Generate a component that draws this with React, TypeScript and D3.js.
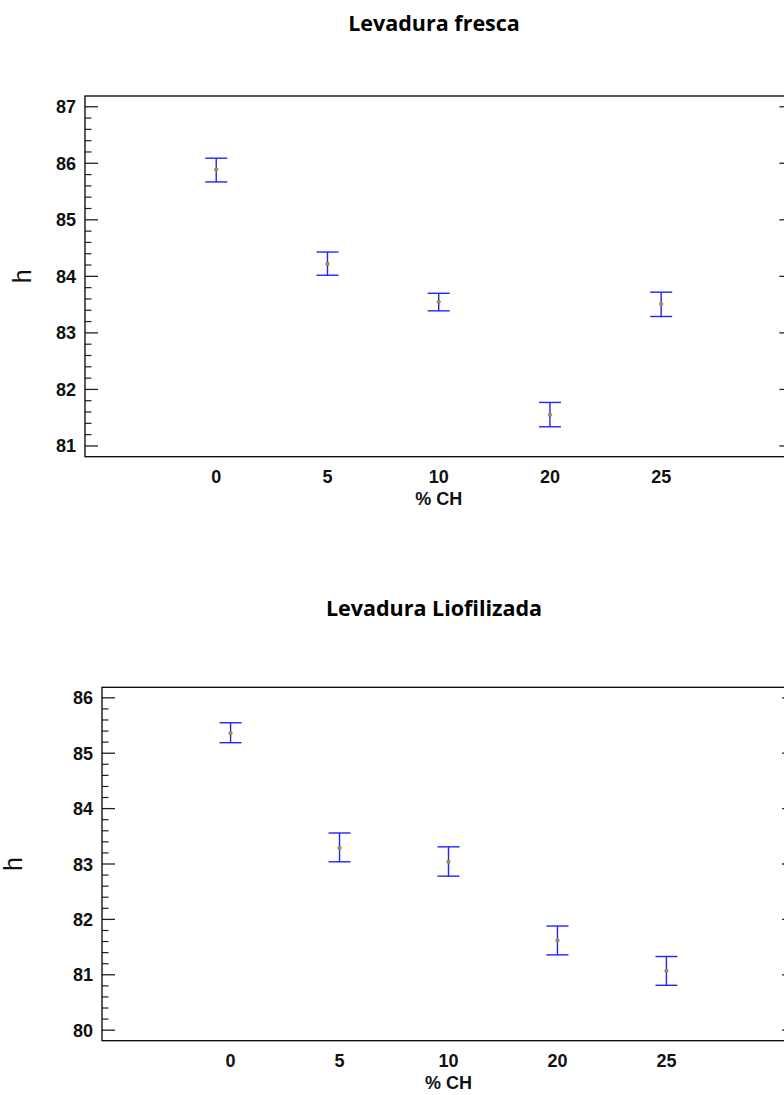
import React from "react";
import * as d3 from "d3";

// Sample groups (% CH) shared by both panels
const categories = ["0", "5", "10", "20", "25"];

// Levadura fresca: means and interval bounds
const frescaMean = [85.89, 84.22, 83.55, 81.55, 83.51];
const frescaLow = [85.67, 84.02, 83.39, 81.34, 83.29];
const frescaHigh = [86.09, 84.43, 83.7, 81.77, 83.72];
const frescaTicks = [81, 82, 83, 84, 85, 86, 87];

// Levadura Liofilizada: means and interval bounds
const lioMean = [85.36, 83.29, 83.04, 81.62, 81.07];
const lioLow = [85.19, 83.04, 82.78, 81.36, 80.81];
const lioHigh = [85.55, 83.56, 83.31, 81.88, 81.33];
const lioTicks = [80, 81, 82, 83, 84, 85, 86];

type PanelProps = {
  title: string;
  titleY: number;
  mean: number[];
  low: number[];
  high: number[];
  ticks: number[];
  yDomain: [number, number];
  left: number;
  right: number;
  top: number;
  bottom: number;
  yLabelX: number;
};

const TICK_FONT = "'Liberation Sans', Arial, sans-serif";
const TITLE_FONT = "'Open Sans', 'Noto Sans', sans-serif";
const BAR_COLOR = "#2222ff";

function Panel(p: PanelProps) {
  const x = d3
    .scaleLinear()
    .domain([-1.18, categories.length - 1 + 1.18])
    .range([p.left, p.right]);
  const y = d3.scaleLinear().domain(p.yDomain).range([p.bottom, p.top]);

  const minor = d3
    .range(Math.ceil(p.yDomain[0] * 5), Math.floor(p.yDomain[1] * 5) + 1)
    .map((v) => v / 5)
    .filter((v) => !p.ticks.some((t) => Math.abs(t - v) < 1e-6));

  const majorLen = 13;
  const minorLen = 6.5;
  const capHalf = 11;
  const midX = (p.left + p.right) / 2;

  return (
    <g>
      <text
        x={434}
        y={p.titleY}
        textAnchor="middle"
        fontFamily={TITLE_FONT}
        fontWeight="bold"
        fontSize={21.5}
        fill="#000"
      >
        {p.title}
      </text>

      {/* left and right tick marks */}
      {p.ticks.map((t) => (
        <g key={"M" + t}>
          <line x1={p.left} x2={p.left + majorLen} y1={y(t)} y2={y(t)} stroke="#222" strokeWidth={1.3} />
          <line x1={p.right} x2={p.right - majorLen} y1={y(t)} y2={y(t)} stroke="#222" strokeWidth={1.3} />
          <text
            x={p.left - 9}
            y={y(t) + 6.5}
            textAnchor="end"
            fontFamily={TICK_FONT}
            fontWeight="bold"
            fontSize={18}
            fill="#111"
          >
            {t}
          </text>
        </g>
      ))}
      {minor.map((t) => (
        <g key={"m" + t}>
          <line x1={p.left} x2={p.left + minorLen} y1={y(t)} y2={y(t)} stroke="#222" strokeWidth={1.2} />
          <line x1={p.right} x2={p.right - minorLen} y1={y(t)} y2={y(t)} stroke="#222" strokeWidth={1.2} />
        </g>
      ))}

      {/* frame */}
      <rect
        x={p.left}
        y={p.top}
        width={p.right - p.left}
        height={p.bottom - p.top}
        fill="none"
        stroke="#000"
        strokeWidth={1.3}
      />

      {/* category labels */}
      {categories.map((c, i) => (
        <text
          key={"c" + c}
          x={x(i)}
          y={p.bottom + 26.6}
          textAnchor="middle"
          fontFamily={TICK_FONT}
          fontWeight="bold"
          fontSize={18}
          fill="#111"
        >
          {c}
        </text>
      ))}
      <text
        x={midX}
        y={p.bottom + 48.3}
        textAnchor="middle"
        fontFamily={TICK_FONT}
        fontWeight="bold"
        fontSize={18}
        fill="#111"
      >
        % CH
      </text>
      <text
        transform={`translate(${p.yLabelX + 6.5},${(p.top + p.bottom) / 2}) rotate(-90)`}
        textAnchor="middle"
        fontFamily={TICK_FONT}
        fontSize={25}
        fill="#111"
      >
        h
      </text>

      {/* interval bars with mean markers */}
      {categories.map((c, i) => (
        <g key={"b" + c}>
          <line x1={x(i)} x2={x(i)} y1={y(p.low[i])} y2={y(p.high[i])} stroke={BAR_COLOR} strokeWidth={1.4} />
          <line
            x1={x(i) - capHalf}
            x2={x(i) + capHalf}
            y1={y(p.high[i])}
            y2={y(p.high[i])}
            stroke={BAR_COLOR}
            strokeWidth={1.4}
          />
          <line
            x1={x(i) - capHalf}
            x2={x(i) + capHalf}
            y1={y(p.low[i])}
            y2={y(p.low[i])}
            stroke={BAR_COLOR}
            strokeWidth={1.4}
          />
          <circle cx={x(i)} cy={y(p.mean[i])} r={1.8} fill="#a0a030" stroke="#6a6a40" strokeWidth={0.5} />
        </g>
      ))}
    </g>
  );
}

export default function App() {
  return (
    <svg
      width={784}
      height={1095}
      style={{ position: "absolute", left: 0, top: 0, background: "#fff" }}
    >
      <rect x={0} y={0} width={784} height={1095} fill="#fff" />
      <Panel
        title="Levadura fresca"
        titleY={31}
        mean={frescaMean}
        low={frescaLow}
        high={frescaHigh}
        ticks={frescaTicks}
        yDomain={[80.81, 87.19]}
        left={85}
        right={792.4}
        top={96}
        bottom={456.7}
        yLabelX={24}
      />
      <Panel
        title="Levadura Liofilizada"
        titleY={615.7}
        mean={lioMean}
        low={lioLow}
        high={lioHigh}
        ticks={lioTicks}
        yDomain={[79.81, 86.19]}
        left={102}
        right={795}
        top={687.3}
        bottom={1040.7}
        yLabelX={15.3}
      />
    </svg>
  );
}
